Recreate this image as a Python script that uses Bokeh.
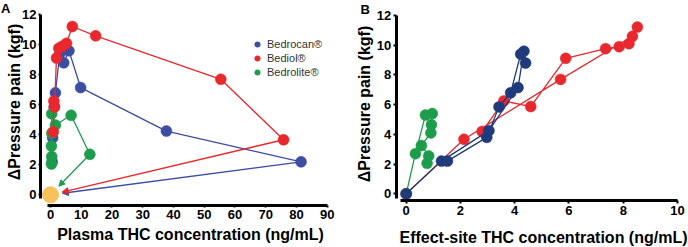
import math
from bokeh.plotting import figure
from bokeh.layouts import row
from bokeh.models import Range1d, Arrow, NormalHead, Legend, LegendItem, FixedTicker, Label
from bokeh.embed import file_html
from bokeh.resources import INLINE

# ---------------- data ----------------
series_names = ["Bedrocan®", "Bediol®", "Bedrolite®"]

# Bedrocan (time-ordered samples)
bedrocan_plasma = [81.5, 37.7, 9.8, 6.0, 4.3, 3.0, 1.6, 1.2, 0.7, 0.55]
bedrocan_effect_site = [1.3, 3.05, 4.12, 4.34, 4.4, 4.22, 3.85, 3.42, 2.97, 1.52]
bedrocan_pain = [2.2, 4.25, 7.15, 9.6, 8.8, 9.4, 6.8, 5.85, 3.8, 2.2]

# Bediol
bediol_plasma = [75.8, 55.4, 14.7, 7.1, 5.2, 3.8, 2.7, 1.95, 1.3, 1.1, 0.9]
bediol_effect_site = [2.13, 5.69, 8.34, 8.52, 8.21, 7.85, 7.35, 5.88, 4.59, 3.6, 2.8]
bediol_pain = [3.67, 7.7, 10.6, 11.22, 10.1, 9.9, 9.77, 9.12, 5.87, 6.25, 4.2]

# Bedrolite
bedrolite_plasma = [12.8, 6.7, 1.6, 0.4, 0.4, 0.3, 0.4, 0.3]
bedrolite_effect_site = [0.34, 0.71, 0.93, 0.96, 0.91, 0.56, 0.83, 0.77]
bedrolite_pain = [2.7, 5.3, 4.65, 5.4, 4.1, 3.25, 2.55, 2.05]

baseline_conc = [0.0]
baseline_pain = [0.0]

xticks_a = [0, 10, 20, 30, 40, 50, 60, 70, 80, 90]
xticks_b = [0, 2, 4, 6, 8, 10]
yticks = [0, 2, 4, 6, 8, 10, 12]

YLABEL = "ΔPressure pain (kgf)"
XLABEL_A = "Plasma THC concentration (ng/mL)"
XLABEL_B = "Effect-site THC concentration (ng/mL)"

# ---------------- styles ----------------
FONT = "Liberation Sans"
BLUE_A = "#3d4da1"
BLUE_B = "#1f3b7c"
RED = "#e8282d"
GREEN = "#1d9c4c"
YELLOW = "#f6c25c"
MS = 11
LW = 1.3
W, H = 344, 247


def style_axes(p, xticks, xloc, yloc, xbounds, ybounds, tick_out, standoff):
    for ax in (p.xaxis[0], p.yaxis[0]):
        ax.axis_line_width = 3
        ax.axis_line_color = "black"
        ax.major_tick_line_width = 2
        ax.major_tick_line_color = "black"
        ax.major_tick_in = 0
        ax.major_tick_out = tick_out
        ax.minor_tick_line_color = None
        ax.major_label_text_font = FONT
        ax.major_label_text_font_style = "bold"
        ax.major_label_text_font_size = "13px"
        ax.major_label_text_color = "black"
        ax.major_label_standoff = standoff
    p.xaxis[0].ticker = FixedTicker(ticks=xticks)
    p.yaxis[0].ticker = FixedTicker(ticks=yticks)
    p.xaxis[0].fixed_location = xloc
    p.yaxis[0].fixed_location = yloc
    p.xaxis[0].bounds = xbounds
    p.yaxis[0].bounds = ybounds
    p.xgrid.visible = False
    p.ygrid.visible = False
    p.outline_line_color = None


def text(p, s, x, y, size, angle=0.0, align="left"):
    p.add_layout(Label(x=x, y=y, x_units="screen", y_units="screen", text=s, angle=angle,
                       text_font=FONT, text_font_style="bold", text_font_size=size,
                       text_baseline="alphabetic", text_align=align, text_color="black"))


# ---------------- panel A ----------------
# frame spans the whole canvas; x=0 at px 50, x=90 at px 326.7; y=0 at px 194.3, y=12 at px 14.3
sx_a = (326.7 - 50.0) / 90.0
sy_a = (194.3 - 14.3) / 12.0
xa0 = -50.0 / sx_a
ya1 = 12.0 + 14.3 / sy_a
pa = figure(width=W, height=H, output_backend="svg", toolbar_location=None, min_border=0,
            x_range=Range1d(xa0, xa0 + W / sx_a), y_range=Range1d(ya1 - H / sy_a, ya1))
style_axes(pa, xticks_a, -10.7 / sy_a, -10.0 / sx_a, (-1, 90), (-0.25, 12), 2, 2)

arrow_gap_px = 12.0
renders_a = []
for xs, ys, col in [(bedrocan_plasma, bedrocan_pain, BLUE_A),
                    (bedrolite_plasma, bedrolite_pain, GREEN),
                    (bediol_plasma, bediol_pain, RED)]:
    pa.line(xs, ys, line_color=col, line_width=LW)
    # arrow from first sample back toward the baseline point
    L = math.hypot(xs[0] * sx_a, ys[0] * sy_a)
    ex = baseline_conc[0] + xs[0] * arrow_gap_px / L
    ey = baseline_pain[0] + ys[0] * arrow_gap_px / L
    pa.add_layout(Arrow(end=NormalHead(size=6, fill_color=col, line_color=col, line_width=1),
                        x_start=xs[0], y_start=ys[0], x_end=ex, y_end=ey,
                        line_color=col, line_width=LW))
    r = pa.scatter(xs, ys, size=MS, fill_color=col, line_color=col, line_width=0.5)
    renders_a.append(r)

pa.scatter(baseline_conc, baseline_pain, size=16, fill_color=YELLOW, line_color=YELLOW)

legend = Legend(items=[LegendItem(label=series_names[0], renderers=[renders_a[0]]),
                       LegendItem(label=series_names[1], renderers=[renders_a[2]]),
                       LegendItem(label=series_names[2], renderers=[renders_a[1]])],
                location=(250, 168), orientation="vertical",
                label_text_font=FONT, label_text_font_size="11px", label_text_color="#333333",
                glyph_width=14, glyph_height=14, label_height=14, spacing=0,
                padding=0, margin=0, label_standoff=3,
                border_line_alpha=0, background_fill_alpha=0)
pa.add_layout(legend)

text(pa, "A", 0.5, H - 7.5, "13px")
text(pa, YLABEL, 13.5, H - 101.5, "16px", angle=math.pi / 2, align="center")
text(pa, XLABEL_A, 190, H - 234, "16px", align="center")

# ---------------- panel B ----------------
# x=0 at px 61.7, x=10 at px 333; y=0 at px 193.3, y=12 at px 15
sx_b = (333.0 - 61.7) / 10.0
sy_b = (193.3 - 15.0) / 12.0
xb0 = -61.7 / sx_b
yb1 = 12.0 + 15.0 / sy_b
pb = figure(width=W, height=H, output_backend="svg", toolbar_location=None, min_border=0,
            x_range=Range1d(xb0, xb0 + W / sx_b), y_range=Range1d(yb1 - H / sy_b, yb1))
style_axes(pb, xticks_b, -6.7 / sy_b, -10.0 / sx_b, (-0.2, 10), (-0.3, 12), 3, 2)

for xs, ys, col in [(bediol_effect_site, bediol_pain, RED),
                    (bedrolite_effect_site, bedrolite_pain, GREEN),
                    (bedrocan_effect_site, bedrocan_pain, BLUE_B)]:
    fx = baseline_conc + xs
    fy = baseline_pain + ys
    pb.line(fx, fy, line_color=col, line_width=LW)
    pb.scatter(fx, fy, size=MS, fill_color=col, line_color=col, line_width=0.5)

text(pb, "B", 16, H - 8.5, "13px")
text(pb, YLABEL, 20, H - 103.5, "16px", angle=math.pi / 2, align="center")
text(pb, XLABEL_B, 199, H - 236.5, "16px", align="center")

layout = row(pa, pb)
open("out.html", "w").write(file_html(layout, INLINE))
